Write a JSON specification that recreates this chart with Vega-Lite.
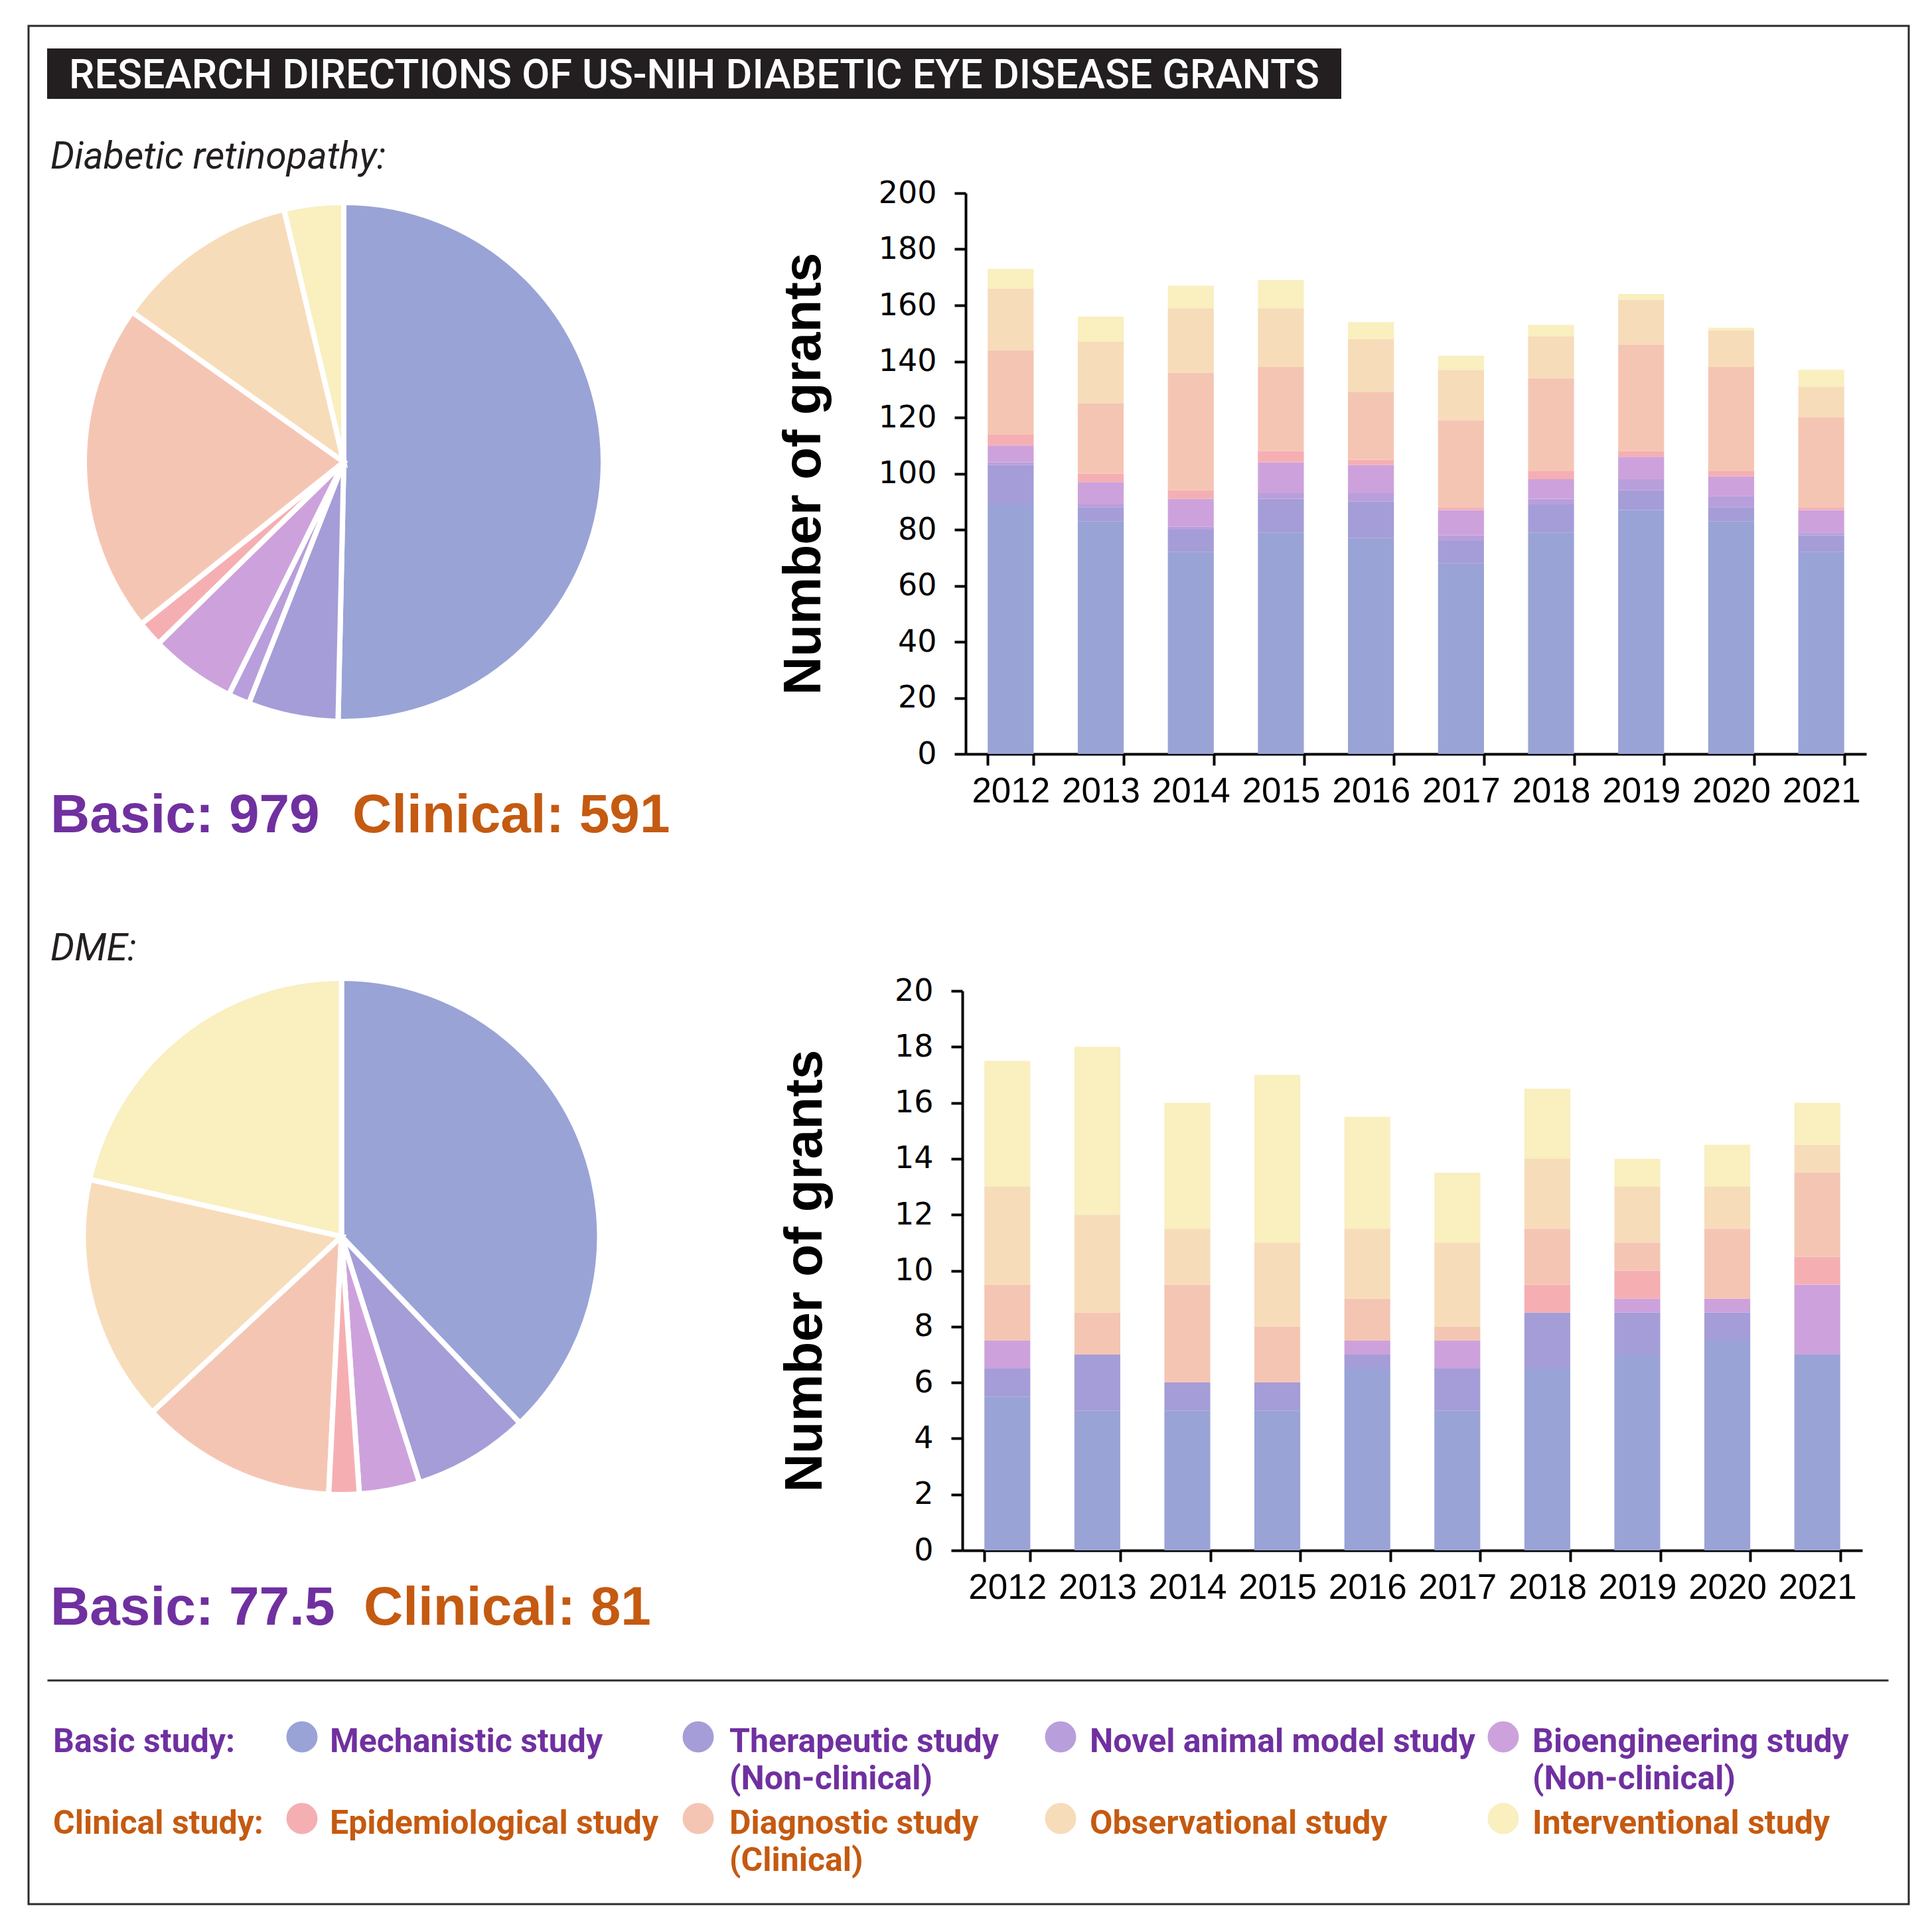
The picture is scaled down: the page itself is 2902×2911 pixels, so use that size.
{
  "$schema": "https://vega.github.io/schema/vega-lite/v6.json",
  "padding": {"left": 41, "top": 37, "right": 25, "bottom": 41},
  "background": "white",
  "config": {
    "view": {"stroke": null},
    "axis": {"domainColor": "black", "tickColor": "black", "labelColor": "black", "titleColor": "black", "grid": false}
  },
  "datasets": {
    "dr": [
      {"year": 2012, "category": "Mechanistic study", "n": 89},
      {"year": 2012, "category": "Therapeutic study (Non-clinical)", "n": 14},
      {"year": 2012, "category": "Novel animal model study", "n": 1},
      {"year": 2012, "category": "Bioengineering study (Non-clinical)", "n": 6},
      {"year": 2012, "category": "Epidemiological study", "n": 4},
      {"year": 2012, "category": "Diagnostic study (Clinical)", "n": 30},
      {"year": 2012, "category": "Observational study", "n": 22},
      {"year": 2012, "category": "Interventional study", "n": 7},
      {"year": 2013, "category": "Mechanistic study", "n": 83},
      {"year": 2013, "category": "Therapeutic study (Non-clinical)", "n": 5},
      {"year": 2013, "category": "Novel animal model study", "n": 1},
      {"year": 2013, "category": "Bioengineering study (Non-clinical)", "n": 8},
      {"year": 2013, "category": "Epidemiological study", "n": 3},
      {"year": 2013, "category": "Diagnostic study (Clinical)", "n": 25},
      {"year": 2013, "category": "Observational study", "n": 22},
      {"year": 2013, "category": "Interventional study", "n": 9},
      {"year": 2014, "category": "Mechanistic study", "n": 72},
      {"year": 2014, "category": "Therapeutic study (Non-clinical)", "n": 8},
      {"year": 2014, "category": "Novel animal model study", "n": 1},
      {"year": 2014, "category": "Bioengineering study (Non-clinical)", "n": 10},
      {"year": 2014, "category": "Epidemiological study", "n": 3},
      {"year": 2014, "category": "Diagnostic study (Clinical)", "n": 42},
      {"year": 2014, "category": "Observational study", "n": 23},
      {"year": 2014, "category": "Interventional study", "n": 8},
      {"year": 2015, "category": "Mechanistic study", "n": 79},
      {"year": 2015, "category": "Therapeutic study (Non-clinical)", "n": 12},
      {"year": 2015, "category": "Novel animal model study", "n": 2},
      {"year": 2015, "category": "Bioengineering study (Non-clinical)", "n": 11},
      {"year": 2015, "category": "Epidemiological study", "n": 4},
      {"year": 2015, "category": "Diagnostic study (Clinical)", "n": 30},
      {"year": 2015, "category": "Observational study", "n": 21},
      {"year": 2015, "category": "Interventional study", "n": 10},
      {"year": 2016, "category": "Mechanistic study", "n": 77},
      {"year": 2016, "category": "Therapeutic study (Non-clinical)", "n": 13},
      {"year": 2016, "category": "Novel animal model study", "n": 3},
      {"year": 2016, "category": "Bioengineering study (Non-clinical)", "n": 10},
      {"year": 2016, "category": "Epidemiological study", "n": 2},
      {"year": 2016, "category": "Diagnostic study (Clinical)", "n": 24},
      {"year": 2016, "category": "Observational study", "n": 19},
      {"year": 2016, "category": "Interventional study", "n": 6},
      {"year": 2017, "category": "Mechanistic study", "n": 68},
      {"year": 2017, "category": "Therapeutic study (Non-clinical)", "n": 8},
      {"year": 2017, "category": "Novel animal model study", "n": 2},
      {"year": 2017, "category": "Bioengineering study (Non-clinical)", "n": 9},
      {"year": 2017, "category": "Epidemiological study", "n": 1},
      {"year": 2017, "category": "Diagnostic study (Clinical)", "n": 31},
      {"year": 2017, "category": "Observational study", "n": 18},
      {"year": 2017, "category": "Interventional study", "n": 5},
      {"year": 2018, "category": "Mechanistic study", "n": 79},
      {"year": 2018, "category": "Therapeutic study (Non-clinical)", "n": 10},
      {"year": 2018, "category": "Novel animal model study", "n": 2},
      {"year": 2018, "category": "Bioengineering study (Non-clinical)", "n": 7},
      {"year": 2018, "category": "Epidemiological study", "n": 3},
      {"year": 2018, "category": "Diagnostic study (Clinical)", "n": 33},
      {"year": 2018, "category": "Observational study", "n": 15},
      {"year": 2018, "category": "Interventional study", "n": 4},
      {"year": 2019, "category": "Mechanistic study", "n": 87},
      {"year": 2019, "category": "Therapeutic study (Non-clinical)", "n": 7},
      {"year": 2019, "category": "Novel animal model study", "n": 4},
      {"year": 2019, "category": "Bioengineering study (Non-clinical)", "n": 8},
      {"year": 2019, "category": "Epidemiological study", "n": 2},
      {"year": 2019, "category": "Diagnostic study (Clinical)", "n": 38},
      {"year": 2019, "category": "Observational study", "n": 16},
      {"year": 2019, "category": "Interventional study", "n": 2},
      {"year": 2020, "category": "Mechanistic study", "n": 83},
      {"year": 2020, "category": "Therapeutic study (Non-clinical)", "n": 5},
      {"year": 2020, "category": "Novel animal model study", "n": 4},
      {"year": 2020, "category": "Bioengineering study (Non-clinical)", "n": 7},
      {"year": 2020, "category": "Epidemiological study", "n": 2},
      {"year": 2020, "category": "Diagnostic study (Clinical)", "n": 37},
      {"year": 2020, "category": "Observational study", "n": 13},
      {"year": 2020, "category": "Interventional study", "n": 1},
      {"year": 2021, "category": "Mechanistic study", "n": 72},
      {"year": 2021, "category": "Therapeutic study (Non-clinical)", "n": 6},
      {"year": 2021, "category": "Novel animal model study", "n": 1},
      {"year": 2021, "category": "Bioengineering study (Non-clinical)", "n": 8},
      {"year": 2021, "category": "Epidemiological study", "n": 1},
      {"year": 2021, "category": "Diagnostic study (Clinical)", "n": 32},
      {"year": 2021, "category": "Observational study", "n": 11},
      {"year": 2021, "category": "Interventional study", "n": 6}
    ],
    "dme": [
      {"year": 2012, "category": "Mechanistic study", "n": 5.5},
      {"year": 2012, "category": "Therapeutic study (Non-clinical)", "n": 1},
      {"year": 2012, "category": "Bioengineering study (Non-clinical)", "n": 1},
      {"year": 2012, "category": "Diagnostic study (Clinical)", "n": 2},
      {"year": 2012, "category": "Observational study", "n": 3.5},
      {"year": 2012, "category": "Interventional study", "n": 4.5},
      {"year": 2013, "category": "Mechanistic study", "n": 5},
      {"year": 2013, "category": "Therapeutic study (Non-clinical)", "n": 2},
      {"year": 2013, "category": "Diagnostic study (Clinical)", "n": 1.5},
      {"year": 2013, "category": "Observational study", "n": 3.5},
      {"year": 2013, "category": "Interventional study", "n": 6},
      {"year": 2014, "category": "Mechanistic study", "n": 5},
      {"year": 2014, "category": "Therapeutic study (Non-clinical)", "n": 1},
      {"year": 2014, "category": "Diagnostic study (Clinical)", "n": 3.5},
      {"year": 2014, "category": "Observational study", "n": 2},
      {"year": 2014, "category": "Interventional study", "n": 4.5},
      {"year": 2015, "category": "Mechanistic study", "n": 5},
      {"year": 2015, "category": "Therapeutic study (Non-clinical)", "n": 1},
      {"year": 2015, "category": "Diagnostic study (Clinical)", "n": 2},
      {"year": 2015, "category": "Observational study", "n": 3},
      {"year": 2015, "category": "Interventional study", "n": 6},
      {"year": 2016, "category": "Mechanistic study", "n": 6.5},
      {"year": 2016, "category": "Therapeutic study (Non-clinical)", "n": 0.5},
      {"year": 2016, "category": "Bioengineering study (Non-clinical)", "n": 0.5},
      {"year": 2016, "category": "Diagnostic study (Clinical)", "n": 1.5},
      {"year": 2016, "category": "Observational study", "n": 2.5},
      {"year": 2016, "category": "Interventional study", "n": 4},
      {"year": 2017, "category": "Mechanistic study", "n": 5},
      {"year": 2017, "category": "Therapeutic study (Non-clinical)", "n": 1.5},
      {"year": 2017, "category": "Bioengineering study (Non-clinical)", "n": 1},
      {"year": 2017, "category": "Diagnostic study (Clinical)", "n": 0.5},
      {"year": 2017, "category": "Observational study", "n": 3},
      {"year": 2017, "category": "Interventional study", "n": 2.5},
      {"year": 2018, "category": "Mechanistic study", "n": 6.5},
      {"year": 2018, "category": "Therapeutic study (Non-clinical)", "n": 2},
      {"year": 2018, "category": "Epidemiological study", "n": 1},
      {"year": 2018, "category": "Diagnostic study (Clinical)", "n": 2},
      {"year": 2018, "category": "Observational study", "n": 2.5},
      {"year": 2018, "category": "Interventional study", "n": 2.5},
      {"year": 2019, "category": "Mechanistic study", "n": 7},
      {"year": 2019, "category": "Therapeutic study (Non-clinical)", "n": 1.5},
      {"year": 2019, "category": "Bioengineering study (Non-clinical)", "n": 0.5},
      {"year": 2019, "category": "Epidemiological study", "n": 1},
      {"year": 2019, "category": "Diagnostic study (Clinical)", "n": 1},
      {"year": 2019, "category": "Observational study", "n": 2},
      {"year": 2019, "category": "Interventional study", "n": 1},
      {"year": 2020, "category": "Mechanistic study", "n": 7.5},
      {"year": 2020, "category": "Therapeutic study (Non-clinical)", "n": 1},
      {"year": 2020, "category": "Bioengineering study (Non-clinical)", "n": 0.5},
      {"year": 2020, "category": "Diagnostic study (Clinical)", "n": 2.5},
      {"year": 2020, "category": "Observational study", "n": 1.5},
      {"year": 2020, "category": "Interventional study", "n": 1.5},
      {"year": 2021, "category": "Mechanistic study", "n": 7},
      {"year": 2021, "category": "Bioengineering study (Non-clinical)", "n": 2.5},
      {"year": 2021, "category": "Epidemiological study", "n": 1},
      {"year": 2021, "category": "Diagnostic study (Clinical)", "n": 3},
      {"year": 2021, "category": "Observational study", "n": 1},
      {"year": 2021, "category": "Interventional study", "n": 1.5}
    ],
    "totals": [
      {"disease": "DR", "group": "Basic", "total": 979},
      {"disease": "DR", "group": "Clinical", "total": 591},
      {"disease": "DME", "group": "Basic", "total": 77.5},
      {"disease": "DME", "group": "Clinical", "total": 81}
    ],
    "legend": [
      {"category": "Mechanistic study", "group": "Basic study:"},
      {"category": "Therapeutic study (Non-clinical)", "group": "Basic study:"},
      {"category": "Novel animal model study", "group": "Basic study:"},
      {"category": "Bioengineering study (Non-clinical)", "group": "Basic study:"},
      {"category": "Epidemiological study", "group": "Clinical study:"},
      {"category": "Diagnostic study (Clinical)", "group": "Clinical study:"},
      {"category": "Observational study", "group": "Clinical study:"},
      {"category": "Interventional study", "group": "Clinical study:"}
    ]
  },
  "bounds": "flush",
  "spacing": 0,
  "resolve": {"scale": {"color": "independent"}, "legend": {"color": "independent"}},
  "vconcat": [
    {
      "bounds": "flush",
      "spacing": 0,
      "resolve": {"scale": {"color": "independent"}, "legend": {"color": "independent"}},
      "vconcat": [
        {"width": 0.01, "height": 34, "data": {"values": []}, "mark": "point", "encoding": {}},
        {
          "bounds": "flush", "spacing": 0,
          "hconcat": [
            {"width": 28, "height": 0.01, "data": {"values": []}, "mark": "point", "encoding": {}},
            {
              "width": 1950, "height": 76,
              "view": {"fill": "#231F20", "stroke": null},
              "data": {"values": [{"title": "RESEARCH DIRECTIONS OF US-NIH DIABETIC EYE DISEASE GRANTS"}]},
              "mark": {"type": "text", "color": "white", "font": "Roboto", "fontWeight": 500, "fontSize": 61, "baseline": "alphabetic", "dy": 22},
              "encoding": {"text": {"field": "title"}}
            }
          ]
        },
        {"width": 0.01, "height": 181, "data": {"values": []}, "mark": "point", "encoding": {}},
        {
          "bounds": "flush", "spacing": 0,
          "hconcat": [
            {"width": 33, "height": 0.01, "data": {"values": []}, "mark": "point", "encoding": {}},
            {
              "width": 0.01, "height": 0.01,
              "data": {"values": [{"label": "Diabetic retinopathy:"}]},
              "mark": {"type": "text", "align": "left", "baseline": "alphabetic", "font": "Roboto", "fontStyle": "italic", "fontSize": 57, "color": "#231F20"},
              "encoding": {"text": {"field": "label"}}
            }
          ]
        },
        {"width": 0.01, "height": 36.5, "data": {"values": []}, "mark": "point", "encoding": {}},
        {
          "bounds": "flush", "spacing": 0,
          "resolve": {"scale": {"color": "independent"}, "legend": {"color": "independent"}},
          "hconcat": [
            {"width": 33, "height": 0.01, "data": {"values": []}, "mark": "point", "encoding": {}},
            {
              "bounds": "flush", "spacing": 124,
              "resolve": {"scale": {"color": "independent"}, "legend": {"color": "independent"}},
              "vconcat": [
                {
                  "width": 884, "height": 810,
                  "data": {"name": "dr"},
                  "transform": [
                    {"aggregate": [{"op": "sum", "field": "n", "as": "total"}], "groupby": ["category"]},
                    {"calculate": "indexof(['Mechanistic study','Therapeutic study (Non-clinical)','Novel animal model study','Bioengineering study (Non-clinical)','Epidemiological study','Diagnostic study (Clinical)','Observational study','Interventional study'], datum.category)", "as": "ord"}
                  ],
                  "mark": {"type": "arc", "outerRadius": 391, "stroke": "white", "strokeWidth": 8},
                  "encoding": {
                    "theta": {"field": "total", "type": "quantitative", "stack": true},
                    "color": {"field": "category", "type": "nominal", "legend": null,
                      "scale": {"domain": ["Mechanistic study", "Therapeutic study (Non-clinical)", "Novel animal model study", "Bioengineering study (Non-clinical)", "Epidemiological study", "Diagnostic study (Clinical)", "Observational study", "Interventional study"],
                                "range": ["#99A3D6", "#A59DD7", "#B89FDB", "#CDA2DC", "#F5AFB3", "#F5C5B4", "#F7DCBA", "#F9EFBF"]}},
                    "order": {"field": "ord", "type": "quantitative"}
                  }
                },
                {
                  "width": 910, "height": 58,
                  "data": {"name": "totals"},
                  "transform": [
                    {"filter": "datum.disease === 'DR'"},
                    {"calculate": "datum.group + ': ' + datum.total", "as": "label"}
                  ],
                  "mark": {"type": "text", "align": "left", "baseline": "alphabetic", "font": "Liberation Sans", "fontWeight": "bold", "fontSize": 82},
                  "encoding": {
                    "x": {"field": "group", "type": "nominal", "bandPosition": 0, "scale": {"type": "band", "paddingInner": 0, "paddingOuter": 0}, "axis": null},
                    "text": {"field": "label"},
                    "color": {"condition": {"test": "datum.group === 'Basic'", "value": "#7030A0"}, "value": "#C55A11"}
                  }
                }
              ]
            },
            {"width": 1379, "height": 0.01, "data": {"values": []}, "mark": "point", "encoding": {}},
            {
              "width": 1357, "height": 845,
              "data": {"name": "dr"},
              "transform": [
                {"calculate": "indexof(['Mechanistic study','Therapeutic study (Non-clinical)','Novel animal model study','Bioengineering study (Non-clinical)','Epidemiological study','Diagnostic study (Clinical)','Observational study','Interventional study'], datum.category)", "as": "ord"}
              ],
              "mark": {"type": "bar"},
              "encoding": {
                "x": {"field": "year", "type": "ordinal", "scale": {"paddingInner": 0.49, "paddingOuter": 0.245},
                  "axis": {"title": null, "labelAngle": 0, "tickBand": "extent", "domainWidth": 4, "tickWidth": 4, "tickSize": 17, "labelFont": "Liberation Sans", "labelFontSize": 53, "labelPadding": 13}},
                "y": {"field": "n", "type": "quantitative", "stack": "zero", "scale": {"domain": [0, 200], "nice": false},
                  "axis": {"title": "Number of grants", "values": [0, 20, 40, 60, 80, 100, 120, 140, 160, 180, 200], "domainWidth": 4, "tickWidth": 4, "tickSize": 17, "labelFont": "DejaVu Sans", "labelFontSize": 46, "labelPadding": 27, "titleFont": "Liberation Sans", "titleFontSize": 80, "titleFontWeight": "bold", "titlePadding": 71}},
                "color": {"field": "category", "type": "nominal", "legend": null,
                  "scale": {"domain": ["Mechanistic study", "Therapeutic study (Non-clinical)", "Novel animal model study", "Bioengineering study (Non-clinical)", "Epidemiological study", "Diagnostic study (Clinical)", "Observational study", "Interventional study"],
                            "range": ["#99A3D6", "#A59DD7", "#B89FDB", "#CDA2DC", "#F5AFB3", "#F5C5B4", "#F7DCBA", "#F9EFBF"]}},
                "order": {"field": "ord", "type": "quantitative"}
              }
            }
          ]
        },
        {"width": 0.01, "height": 1155.5, "data": {"values": []}, "mark": "point", "encoding": {}},
        {
          "bounds": "flush", "spacing": 0,
          "hconcat": [
            {"width": 33, "height": 0.01, "data": {"values": []}, "mark": "point", "encoding": {}},
            {
              "width": 0.01, "height": 0.01,
              "data": {"values": [{"label": "DME:"}]},
              "mark": {"type": "text", "align": "left", "baseline": "alphabetic", "font": "Roboto", "fontStyle": "italic", "fontSize": 57, "color": "#231F20"},
              "encoding": {"text": {"field": "label"}}
            }
          ]
        },
        {"width": 0.01, "height": 46, "data": {"values": []}, "mark": "point", "encoding": {}},
        {
          "bounds": "flush", "spacing": 0,
          "resolve": {"scale": {"color": "independent"}, "legend": {"color": "independent"}},
          "hconcat": [
            {"width": 33, "height": 0.01, "data": {"values": []}, "mark": "point", "encoding": {}},
            {
              "bounds": "flush", "spacing": 185.6,
              "resolve": {"scale": {"color": "independent"}, "legend": {"color": "independent"}},
              "vconcat": [
                {
                  "width": 877, "height": 740,
                  "data": {"name": "dme"},
                  "transform": [
                    {"aggregate": [{"op": "sum", "field": "n", "as": "total"}], "groupby": ["category"]},
                    {"calculate": "indexof(['Mechanistic study','Therapeutic study (Non-clinical)','Novel animal model study','Bioengineering study (Non-clinical)','Epidemiological study','Diagnostic study (Clinical)','Observational study','Interventional study'], datum.category)", "as": "ord"}
                  ],
                  "mark": {"type": "arc", "outerRadius": 389, "stroke": "white", "strokeWidth": 8},
                  "encoding": {
                    "theta": {"field": "total", "type": "quantitative", "stack": true},
                    "color": {"field": "category", "type": "nominal", "legend": null,
                      "scale": {"domain": ["Mechanistic study", "Therapeutic study (Non-clinical)", "Novel animal model study", "Bioengineering study (Non-clinical)", "Epidemiological study", "Diagnostic study (Clinical)", "Observational study", "Interventional study"],
                                "range": ["#99A3D6", "#A59DD7", "#B89FDB", "#CDA2DC", "#F5AFB3", "#F5C5B4", "#F7DCBA", "#F9EFBF"]}},
                    "order": {"field": "ord", "type": "quantitative"}
                  }
                },
                {
                  "width": 944, "height": 58,
                  "data": {"name": "totals"},
                  "transform": [
                    {"filter": "datum.disease === 'DME'"},
                    {"calculate": "datum.group + ': ' + datum.total", "as": "label"}
                  ],
                  "mark": {"type": "text", "align": "left", "baseline": "alphabetic", "font": "Liberation Sans", "fontWeight": "bold", "fontSize": 82},
                  "encoding": {
                    "x": {"field": "group", "type": "nominal", "bandPosition": 0, "scale": {"type": "band", "paddingInner": 0, "paddingOuter": 0}, "axis": null},
                    "text": {"field": "label"},
                    "color": {"condition": {"test": "datum.group === 'Basic'", "value": "#7030A0"}, "value": "#C55A11"}
                  }
                }
              ]
            },
            {"width": 1374, "height": 0.01, "data": {"values": []}, "mark": "point", "encoding": {}},
            {
              "width": 1356, "height": 843,
              "data": {"name": "dme"},
              "transform": [
                {"calculate": "indexof(['Mechanistic study','Therapeutic study (Non-clinical)','Novel animal model study','Bioengineering study (Non-clinical)','Epidemiological study','Diagnostic study (Clinical)','Observational study','Interventional study'], datum.category)", "as": "ord"}
              ],
              "mark": {"type": "bar"},
              "encoding": {
                "x": {"field": "year", "type": "ordinal", "scale": {"paddingInner": 0.49, "paddingOuter": 0.245},
                  "axis": {"title": null, "labelAngle": 0, "tickBand": "extent", "domainWidth": 4, "tickWidth": 4, "tickSize": 17, "labelFont": "Liberation Sans", "labelFontSize": 53, "labelPadding": 13}},
                "y": {"field": "n", "type": "quantitative", "stack": "zero", "scale": {"domain": [0, 20], "nice": false},
                  "axis": {"title": "Number of grants", "values": [0, 2, 4, 6, 8, 10, 12, 14, 16, 18, 20], "domainWidth": 4, "tickWidth": 4, "tickSize": 17, "labelFont": "DejaVu Sans", "labelFontSize": 46, "labelPadding": 27, "titleFont": "Liberation Sans", "titleFontSize": 80, "titleFontWeight": "bold", "titlePadding": 93}},
                "color": {"field": "category", "type": "nominal", "legend": null,
                  "scale": {"domain": ["Mechanistic study", "Therapeutic study (Non-clinical)", "Novel animal model study", "Bioengineering study (Non-clinical)", "Epidemiological study", "Diagnostic study (Clinical)", "Observational study", "Interventional study"],
                            "range": ["#99A3D6", "#A59DD7", "#B89FDB", "#CDA2DC", "#F5AFB3", "#F5C5B4", "#F7DCBA", "#F9EFBF"]}},
                "order": {"field": "ord", "type": "quantitative"}
              }
            }
          ]
        },
        {"width": 0.01, "height": 1039, "data": {"values": []}, "mark": "point", "encoding": {}},
        {
          "bounds": "flush", "spacing": 0,
          "hconcat": [
            {"width": 30, "height": 0.01, "data": {"values": []}, "mark": "point", "encoding": {}},
            {"width": 2771, "height": 0.01, "view": {"stroke": "#2b2b2b", "strokeWidth": 3}, "data": {"values": []}, "mark": "point", "encoding": {}}
          ]
        },
        {"width": 0.01, "height": 85, "data": {"values": []}, "mark": "point", "encoding": {}},
        {
          "bounds": "flush", "spacing": 0,
          "resolve": {"scale": {"color": "independent"}, "legend": {"color": "independent"}},
          "hconcat": [
            {"width": 37, "height": 0.01, "data": {"values": []}, "mark": "point", "encoding": {}},
            {
              "width": 0.01, "height": 123,
              "data": {"values": [{"group": "Basic study:"}, {"group": "Clinical study:"}]},
              "mark": {"type": "text", "align": "left", "baseline": "alphabetic", "dy": 23, "font": "Roboto", "fontWeight": "bold", "fontSize": 50},
              "encoding": {
                "y": {"field": "group", "type": "nominal", "scale": {"type": "point", "padding": 0, "domain": ["Basic study:", "Clinical study:"]}, "axis": null},
                "text": {"field": "group"},
                "color": {"condition": {"test": "datum.group === 'Basic study:'", "value": "#7030A0"}, "value": "#C55A11"}
              }
            },
            {"width": 374, "height": 0.01, "data": {"values": []}, "mark": "point", "encoding": {}},
            {
              "width": 0.01, "height": 123,
              "data": {"name": "legend"},
              "transform": [
                {"filter": {"field": "category", "oneOf": ["Mechanistic study", "Epidemiological study"]}},
                {"calculate": "replace(datum.category, ' (', '\\n(')", "as": "label"}
              ],
              "encoding": {"y": {"field": "group", "type": "nominal", "scale": {"type": "point", "padding": 0, "domain": ["Basic study:", "Clinical study:"]}, "axis": null}},
              "layer": [
                {"mark": {"type": "circle", "size": 2209, "opacity": 1},
                 "encoding": {"color": {"field": "category", "type": "nominal", "legend": null,
                   "scale": {"domain": ["Mechanistic study", "Therapeutic study (Non-clinical)", "Novel animal model study", "Bioengineering study (Non-clinical)", "Epidemiological study", "Diagnostic study (Clinical)", "Observational study", "Interventional study"],
                             "range": ["#99A3D6", "#A59DD7", "#B89FDB", "#CDA2DC", "#F5AFB3", "#F5C5B4", "#F7DCBA", "#F9EFBF"]}}}},
                {"mark": {"type": "text", "align": "left", "baseline": "alphabetic", "dx": 42, "dy": 23, "font": "Roboto", "fontWeight": "bold", "fontSize": 50, "lineBreak": "\n", "lineHeight": 56},
                 "encoding": {"text": {"field": "label"}, "color": {"condition": {"test": "datum.group === 'Basic study:'", "value": "#7030A0"}, "value": "#C55A11"}}}
              ]
            },
            {"width": 596, "height": 0.01, "data": {"values": []}, "mark": "point", "encoding": {}},
            {
              "width": 0.01, "height": 123,
              "data": {"name": "legend"},
              "transform": [
                {"filter": {"field": "category", "oneOf": ["Therapeutic study (Non-clinical)", "Diagnostic study (Clinical)"]}},
                {"calculate": "replace(datum.category, ' (', '\\n(')", "as": "label"}
              ],
              "encoding": {"y": {"field": "group", "type": "nominal", "scale": {"type": "point", "padding": 0, "domain": ["Basic study:", "Clinical study:"]}, "axis": null}},
              "layer": [
                {"mark": {"type": "circle", "size": 2209, "opacity": 1},
                 "encoding": {"color": {"field": "category", "type": "nominal", "legend": null,
                   "scale": {"domain": ["Mechanistic study", "Therapeutic study (Non-clinical)", "Novel animal model study", "Bioengineering study (Non-clinical)", "Epidemiological study", "Diagnostic study (Clinical)", "Observational study", "Interventional study"],
                             "range": ["#99A3D6", "#A59DD7", "#B89FDB", "#CDA2DC", "#F5AFB3", "#F5C5B4", "#F7DCBA", "#F9EFBF"]}}}},
                {"mark": {"type": "text", "align": "left", "baseline": "alphabetic", "dx": 47, "dy": 23, "font": "Roboto", "fontWeight": "bold", "fontSize": 50, "lineBreak": "\n", "lineHeight": 56},
                 "encoding": {"text": {"field": "label"}, "color": {"condition": {"test": "datum.group === 'Basic study:'", "value": "#7030A0"}, "value": "#C55A11"}}}
              ]
            },
            {"width": 545, "height": 0.01, "data": {"values": []}, "mark": "point", "encoding": {}},
            {
              "width": 0.01, "height": 123,
              "data": {"name": "legend"},
              "transform": [
                {"filter": {"field": "category", "oneOf": ["Novel animal model study", "Observational study"]}},
                {"calculate": "replace(datum.category, ' (', '\\n(')", "as": "label"}
              ],
              "encoding": {"y": {"field": "group", "type": "nominal", "scale": {"type": "point", "padding": 0, "domain": ["Basic study:", "Clinical study:"]}, "axis": null}},
              "layer": [
                {"mark": {"type": "circle", "size": 2209, "opacity": 1},
                 "encoding": {"color": {"field": "category", "type": "nominal", "legend": null,
                   "scale": {"domain": ["Mechanistic study", "Therapeutic study (Non-clinical)", "Novel animal model study", "Bioengineering study (Non-clinical)", "Epidemiological study", "Diagnostic study (Clinical)", "Observational study", "Interventional study"],
                             "range": ["#99A3D6", "#A59DD7", "#B89FDB", "#CDA2DC", "#F5AFB3", "#F5C5B4", "#F7DCBA", "#F9EFBF"]}}}},
                {"mark": {"type": "text", "align": "left", "baseline": "alphabetic", "dx": 44, "dy": 23, "font": "Roboto", "fontWeight": "bold", "fontSize": 50, "lineBreak": "\n", "lineHeight": 56},
                 "encoding": {"text": {"field": "label"}, "color": {"condition": {"test": "datum.group === 'Basic study:'", "value": "#7030A0"}, "value": "#C55A11"}}}
              ]
            },
            {"width": 666, "height": 0.01, "data": {"values": []}, "mark": "point", "encoding": {}},
            {
              "width": 0.01, "height": 123,
              "data": {"name": "legend"},
              "transform": [
                {"filter": {"field": "category", "oneOf": ["Bioengineering study (Non-clinical)", "Interventional study"]}},
                {"calculate": "replace(datum.category, ' (', '\\n(')", "as": "label"}
              ],
              "encoding": {"y": {"field": "group", "type": "nominal", "scale": {"type": "point", "padding": 0, "domain": ["Basic study:", "Clinical study:"]}, "axis": null}},
              "layer": [
                {"mark": {"type": "circle", "size": 2209, "opacity": 1},
                 "encoding": {"color": {"field": "category", "type": "nominal", "legend": null,
                   "scale": {"domain": ["Mechanistic study", "Therapeutic study (Non-clinical)", "Novel animal model study", "Bioengineering study (Non-clinical)", "Epidemiological study", "Diagnostic study (Clinical)", "Observational study", "Interventional study"],
                             "range": ["#99A3D6", "#A59DD7", "#B89FDB", "#CDA2DC", "#F5AFB3", "#F5C5B4", "#F7DCBA", "#F9EFBF"]}}}},
                {"mark": {"type": "text", "align": "left", "baseline": "alphabetic", "dx": 44, "dy": 23, "font": "Roboto", "fontWeight": "bold", "fontSize": 50, "lineBreak": "\n", "lineHeight": 56},
                 "encoding": {"text": {"field": "label"}, "color": {"condition": {"test": "datum.group === 'Basic study:'", "value": "#7030A0"}, "value": "#C55A11"}}}
              ]
            }
          ]
        }
      ]
    },
    {"width": 2833, "height": 2830, "view": {"stroke": "#2b2b2b", "strokeWidth": 3}, "data": {"values": []}, "mark": "point", "encoding": {}}
  ]
}
